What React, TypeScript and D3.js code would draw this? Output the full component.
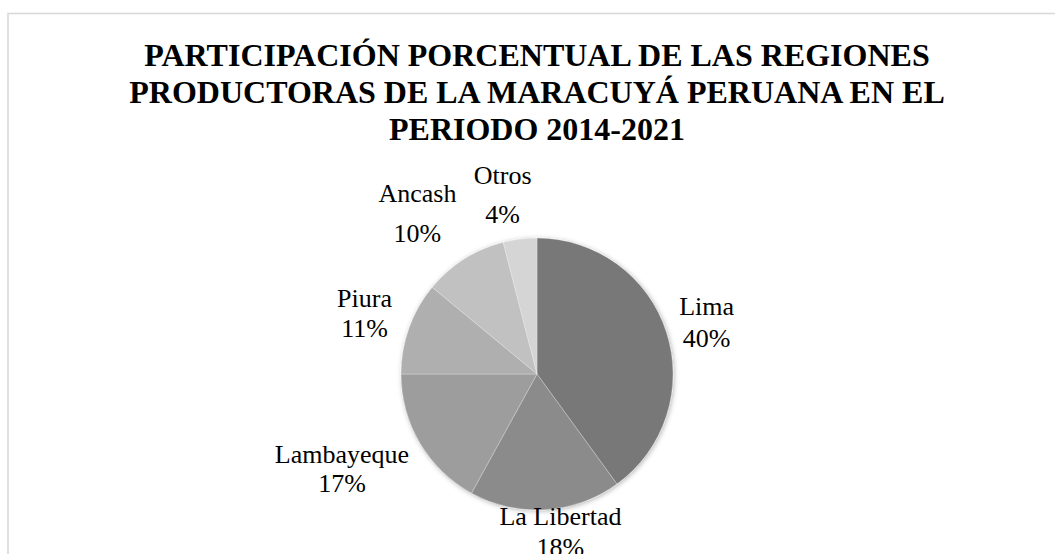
import React, { useEffect, useRef } from "react";
import * as d3 from "d3";

// regions and their share of production (percent)
const regions = ["Lima", "La Libertad", "Lambayeque", "Piura", "Ancash", "Otros"];
const shares = [40, 18, 17, 11, 10, 4];
const titleLines = [
  "PARTICIPACIÓN PORCENTUAL DE LAS REGIONES",
  "PRODUCTORAS DE LA MARACUYÁ PERUANA EN EL",
  "PERIODO 2014-2021",
];

const colors = ["#787878", "#8b8b8b", "#9d9d9d", "#afafaf", "#c1c1c1", "#d5d5d5"];

// small manual nudges for the outside-end labels, like excel places them
const labelNudge = [
  { dx: 6, dy: 3, gap: 32 },
  { dx: 10, dy: -19, gap: 31 },
  { dx: -16, dy: 5, gap: 29 },
  { dx: -5, dy: -1, gap: 30 },
  { dx: -21, dy: -8, gap: 40 },
  { dx: -12, dy: 0, gap: 39 },
];

const App = () => {
  const ref = useRef<SVGSVGElement>(null);

  useEffect(() => {
    const width = 1055,
      height = 554;
    const cx = 537,
      cy = 374,
      radius = 136;
    const font = "'Liberation Serif', 'Times New Roman', serif";

    const svg = d3.select(ref.current);
    svg.selectAll("*").remove();
    svg.attr("width", width).attr("height", height);

    const defs = svg.append("defs");
    const filter = defs
      .append("filter")
      .attr("id", "pieShadow")
      .attr("x", "-20%")
      .attr("y", "-20%")
      .attr("width", "140%")
      .attr("height", "140%");
    filter
      .append("feDropShadow")
      .attr("dx", 1)
      .attr("dy", 1)
      .attr("stdDeviation", 2.5)
      .attr("flood-color", "#000")
      .attr("flood-opacity", 0.3);

    svg.append("rect").attr("width", width).attr("height", height).attr("fill", "#fff");

    // chart area frame (runs off the right and bottom)
    svg
      .append("rect")
      .attr("x", 8)
      .attr("y", 13.5)
      .attr("width", width + 20)
      .attr("height", height + 20)
      .attr("fill", "none")
      .attr("stroke", "#d9d9d9")
      .attr("stroke-width", 1.6);

    // title
    const title = svg
      .append("text")
      .attr("text-anchor", "middle")
      .attr("font-family", font)
      .attr("font-weight", "bold")
      .attr("font-size", 32)
      .attr("fill", "#000");
    titleLines.forEach((line, i) => {
      title
        .append("tspan")
        .attr("x", 537)
        .attr("y", 65.5 + i * 37.2)
        .text(line);
    });

    const data = regions.map((r, i) => ({ region: r, value: shares[i] }));
    const pie = d3
      .pie<{ region: string; value: number }>()
      .sort(null)
      .value((d) => d.value);
    const arcs = pie(data);
    const arc = d3
      .arc<d3.PieArcDatum<{ region: string; value: number }>>()
      .innerRadius(0)
      .outerRadius(radius);

    const g = svg.append("g").attr("transform", `translate(${cx},${cy})`);

    const slices = g.append("g").attr("filter", "url(#pieShadow)");
    slices
      .selectAll("path")
      .data(arcs)
      .enter()
      .append("path")
      .attr("d", arc)
      .attr("fill", (d, i) => colors[i])
      .attr("stroke", "#ffffff")
      .attr("stroke-opacity", 0.35)
      .attr("stroke-width", 0.75);

    // labels: outside end, box pushed away from the arc
    const total = d3.sum(shares);
    const labelGap = 12;
    arcs.forEach((d, i) => {
      const mid = (d.startAngle + d.endAngle) / 2;
      const sx = Math.sin(mid),
        sy = -Math.cos(mid);
      const n = labelNudge[i];
      const w = regions[i].length * 12;
      const h = 26 + n.gap;
      const px = sx * (radius + labelGap) + (sx * w) / 2 + n.dx;
      const py = sy * (radius + labelGap) + (sy * h) / 2 + 9 + n.dy;
      const pct = Math.round((d.data.value / total) * 100) + "%";

      const t = g
        .append("text")
        .attr("text-anchor", "middle")
        .attr("font-family", font)
        .attr("font-size", 26)
        .attr("fill", "#000");
      t.append("tspan")
        .attr("x", px)
        .attr("y", py - n.gap / 2)
        .text(d.data.region);
      t.append("tspan")
        .attr("x", px)
        .attr("y", py + n.gap / 2)
        .text(pct);
    });
  }, []);

  return (
    <svg
      ref={ref}
      width="1055"
      height="554"
      style={{ position: "absolute", left: 0, top: 0, display: "block" }}
    ></svg>
  );
};

export default App;
